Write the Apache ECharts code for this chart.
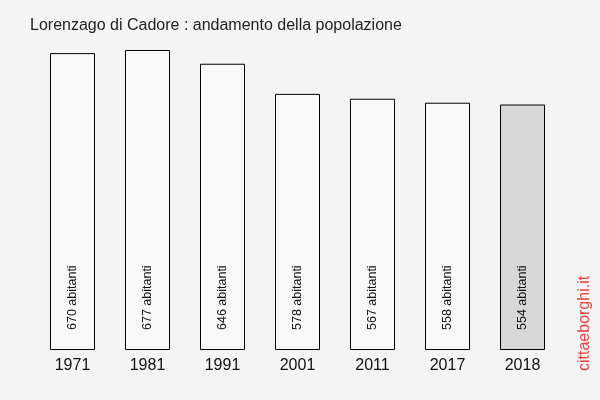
<!DOCTYPE html>
<html><head><meta charset="utf-8">
<script src="https://cdn.jsdelivr.net/npm/echarts@6/dist/echarts.min.js"></script>
<style>html,body{margin:0;padding:0;background:#f4f4f4}#c{width:600px;height:400px}</style>
</head><body><div id="c"></div>
<script>
var years = ['1971','1981','1991','2001','2011','2017','2018'];
var population = [670, 677, 646, 578, 567, 558, 554];
var chart = echarts.init(document.getElementById('c'));
chart.setOption({
  backgroundColor: '#f4f4f4',
  animation: false,
  title: {
    text: 'Lorenzago di Cadore : andamento della popolazione',
    left: 25, top: 13,
    textStyle: {fontFamily: 'Liberation Sans, Arial, sans-serif', fontSize: 16, fontWeight: 'normal', color: '#222'}
  },
  graphic: [{
    type: 'text', rotation: Math.PI/2, x: 585, y: 371,
    style: {text: 'cittaeborghi.it', fill: '#e4423f', fontSize: 16, fontFamily: 'Liberation Sans, Arial, sans-serif', textVerticalAlign: 'middle'}
  }],
  grid: {left: 35, right: 40, top: 50, bottom: 50},
  xAxis: {
    type: 'category', data: years,
    axisLine: {show: false}, axisTick: {show: false},
    axisLabel: {fontSize: 16, color: '#111', margin: 8, fontFamily: 'Liberation Sans, Arial, sans-serif'}
  },
  yAxis: {type: 'value', min: 0, max: 677, show: false, splitLine: {show: false}},
  series: [{
    type: 'bar', barWidth: 45,
    data: population.map(function(v, i){
      return {value: v, itemStyle: {color: i === population.length-1 ? '#d8d8d8' : '#f8f8f8'}};
    }),
    itemStyle: {borderColor: '#000', borderWidth: 1},
    label: {
      show: true, position: 'insideBottom', rotate: 90, distance: 20,
      align: 'left', verticalAlign: 'middle',
      formatter: function(p){ return p.value + ' abitanti'; },
      fontSize: 12.5, color: '#111', fontFamily: 'Liberation Sans, Arial, sans-serif'
    }
  }]
});
</script></body></html>
